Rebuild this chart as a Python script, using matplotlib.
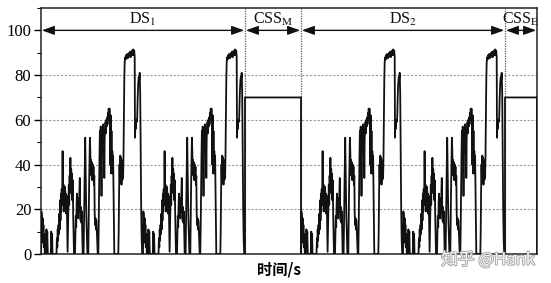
import matplotlib
matplotlib.use("Agg")
import matplotlib.pyplot as plt
import matplotlib.patheffects as pe
from matplotlib.ticker import MultipleLocator
import numpy as np

# one driving schedule cycle (s, km/h)
cycle_t = [0, 4, 8, 12, 16, 20, 24, 28, 33, 38,
           50, 54, 59, 63, 68,
           98, 102, 107, 111, 115,
           155, 159, 163, 167, 171, 175, 179, 183, 187, 191, 195, 199, 203, 207, 211,
           216, 221, 225, 229, 233, 237, 241, 245, 249, 253, 257, 261, 266,
           270, 274, 278, 282, 286, 290, 294, 298, 302, 306, 310, 314, 318, 322, 326, 330,
           340, 344, 348, 352, 356, 360, 364, 368, 372, 376, 380, 384, 388, 392, 396,
           400, 404, 408, 412, 417,
           426, 430, 434, 438, 442, 446, 450, 454, 459, 464,
           473, 477, 481, 485, 489, 493, 497, 501, 505, 509, 513, 517, 521, 525, 529,
           533, 537, 541, 545, 549, 553, 557, 562, 567,
           573, 577, 581, 585, 589, 593, 597, 601, 605, 609, 613, 617, 621, 625, 629,
           633, 637, 641, 645, 649, 653, 657, 661, 665, 669, 673, 677, 681, 685, 689,
           693, 697, 701, 705, 709, 713, 717, 721, 725, 729, 733,
           773, 777, 781, 785, 789, 793, 797, 801, 805, 809, 813, 817, 821, 825, 829,
           833, 837, 842, 847, 852, 857, 862, 867, 872, 877, 882, 887, 892, 897, 902,
           907, 912, 917, 922, 927, 932, 937, 940, 944, 948, 952, 957, 962, 967, 972,
           977, 982, 987, 992, 997, 1002, 1007, 1012]
cycle_v = [0, 19, 17, 8, 16, 5, 13, 3, 9, 0,
           0, 11, 7, 10, 0,
           0, 10, 5, 9, 0,
           0, 7, 3, 11, 6, 13, 9, 18, 11, 24, 15, 27, 19, 29, 22,
           46, 24, 31, 19, 28, 21, 30, 20, 27, 18, 26, 14, 1,
           12, 24, 31, 22, 35, 28, 43, 30, 38, 27, 36, 24, 33, 17, 9, 0,
           0, 8, 17, 12, 22, 27, 18, 25, 16, 24, 19, 28, 34, 20, 15,
           21, 14, 19, 10, 0,
           0, 14, 28, 40, 52, 38, 26, 16, 7, 0,
           0, 16, 30, 42, 52, 46, 36, 42, 35, 41, 33, 40, 34, 39, 31,
           35, 18, 13, 16, 11, 15, 12, 6, 0,
           0, 12, 28, 44, 55, 48, 57, 50, 26, 45, 56, 50, 58, 45, 55,
           34, 52, 56, 59, 54, 60, 57, 61, 58, 63, 60, 65, 61, 65, 58,
           40, 62, 36, 55, 38, 46, 36, 44, 30, 16, 0,
           0, 10, 28, 40, 32, 44, 35, 43, 31, 42, 33, 40, 34, 44, 60,
           78, 86, 88, 87, 89, 88, 89.5, 87.5, 89, 88, 90, 88.5, 90.5, 88, 90,
           89, 91, 89, 91.5, 89, 91, 88, 52, 58, 56, 60, 59, 61, 70, 76,
           79, 78, 81, 72, 45, 20, 6, 0]

# test sequence
segment_names = ["DS$_1$", "CSS$_\\mathrm{M}$", "DS$_2$", "CSS$_\\mathrm{E}$"]
segment_kind = ["ds", "css", "ds", "css"]
segment_len = [2040, 560, 2040, 320]
cycle_period = 1020
css_speed = 70

t_all, v_all = [], []
start = 0
bounds = [0]
for kind, dur in zip(segment_kind, segment_len):
    if kind == "ds":
        for k in range(dur // cycle_period):
            t_all += [start + k * cycle_period + t for t in cycle_t]
            v_all += cycle_v
    else:
        t_all += [start, start, start + dur, start + dur]
        v_all += [0, css_speed, css_speed, 0]
    start += dur
    bounds.append(start)

plt.rcParams['font.family'] = ['Liberation Serif', 'DejaVu Serif']
plt.rcParams['mathtext.fontset'] = 'stix'

fig = plt.figure(figsize=(5.51, 2.83), dpi=100)
ax = fig.add_axes([41 / 551, 1 - 254 / 283, 496 / 551, 246 / 283])

for y in [20, 40, 60, 80]:
    ax.axhline(y, color='#999999', lw=0.8, ls=(0, (2, 1.5)), zorder=1)
for b in bounds[1:-1]:
    ax.axvline(b, color='#555555', lw=0.9, ls=(0, (1, 1)), zorder=1)

ax.plot(t_all, v_all, color='#111111', lw=1.3, zorder=3)

for name, a, b in zip(segment_names, bounds[:-1], bounds[1:]):
    ax.annotate("", xy=(b - 8, 100), xytext=(a + 8, 100),
                arrowprops=dict(arrowstyle='<|-|>,head_length=0.5,head_width=0.18',
                                color='#111111', lw=1.0, shrinkA=0, shrinkB=0,
                                mutation_scale=15), zorder=4)
    ax.text((a + b) / 2, 102.8, name, ha='center', va='baseline',
            fontsize=11.5, color='#111111')

ax.set_xlim(0, bounds[-1])
ax.set_ylim(0, 110)
ax.set_xticks([])
ax.yaxis.set_major_locator(MultipleLocator(20))
ax.yaxis.set_minor_locator(MultipleLocator(10))
ax.set_yticks([0, 20, 40, 60, 80, 100])
ax.tick_params(axis='y', which='major', direction='out', length=5, width=1, pad=2,
               labelsize=12)
ax.tick_params(axis='y', which='minor', direction='out', length=3, width=0.8)
for s in ax.spines.values():
    s.set_linewidth(1.1)
    s.set_color('#222222')

ax.set_xlabel("时间/s", family=['Noto Sans CJK SC', 'DejaVu Sans'],
              fontsize=11, fontweight='bold', labelpad=4)
ax.xaxis.set_label_coords(0.479, -0.03)
ax.xaxis.label.set_va('top')

fig.text(488 / 551, 1 - 260 / 283, "知乎 @Hank", family=['Noto Sans CJK SC', 'DejaVu Sans'],
         fontsize=12, color='#f4f4f4', ha='center', va='center',
         path_effects=[pe.withStroke(linewidth=1.2, foreground='#a0a0a0')])

fig.savefig("out.png", dpi=100)
